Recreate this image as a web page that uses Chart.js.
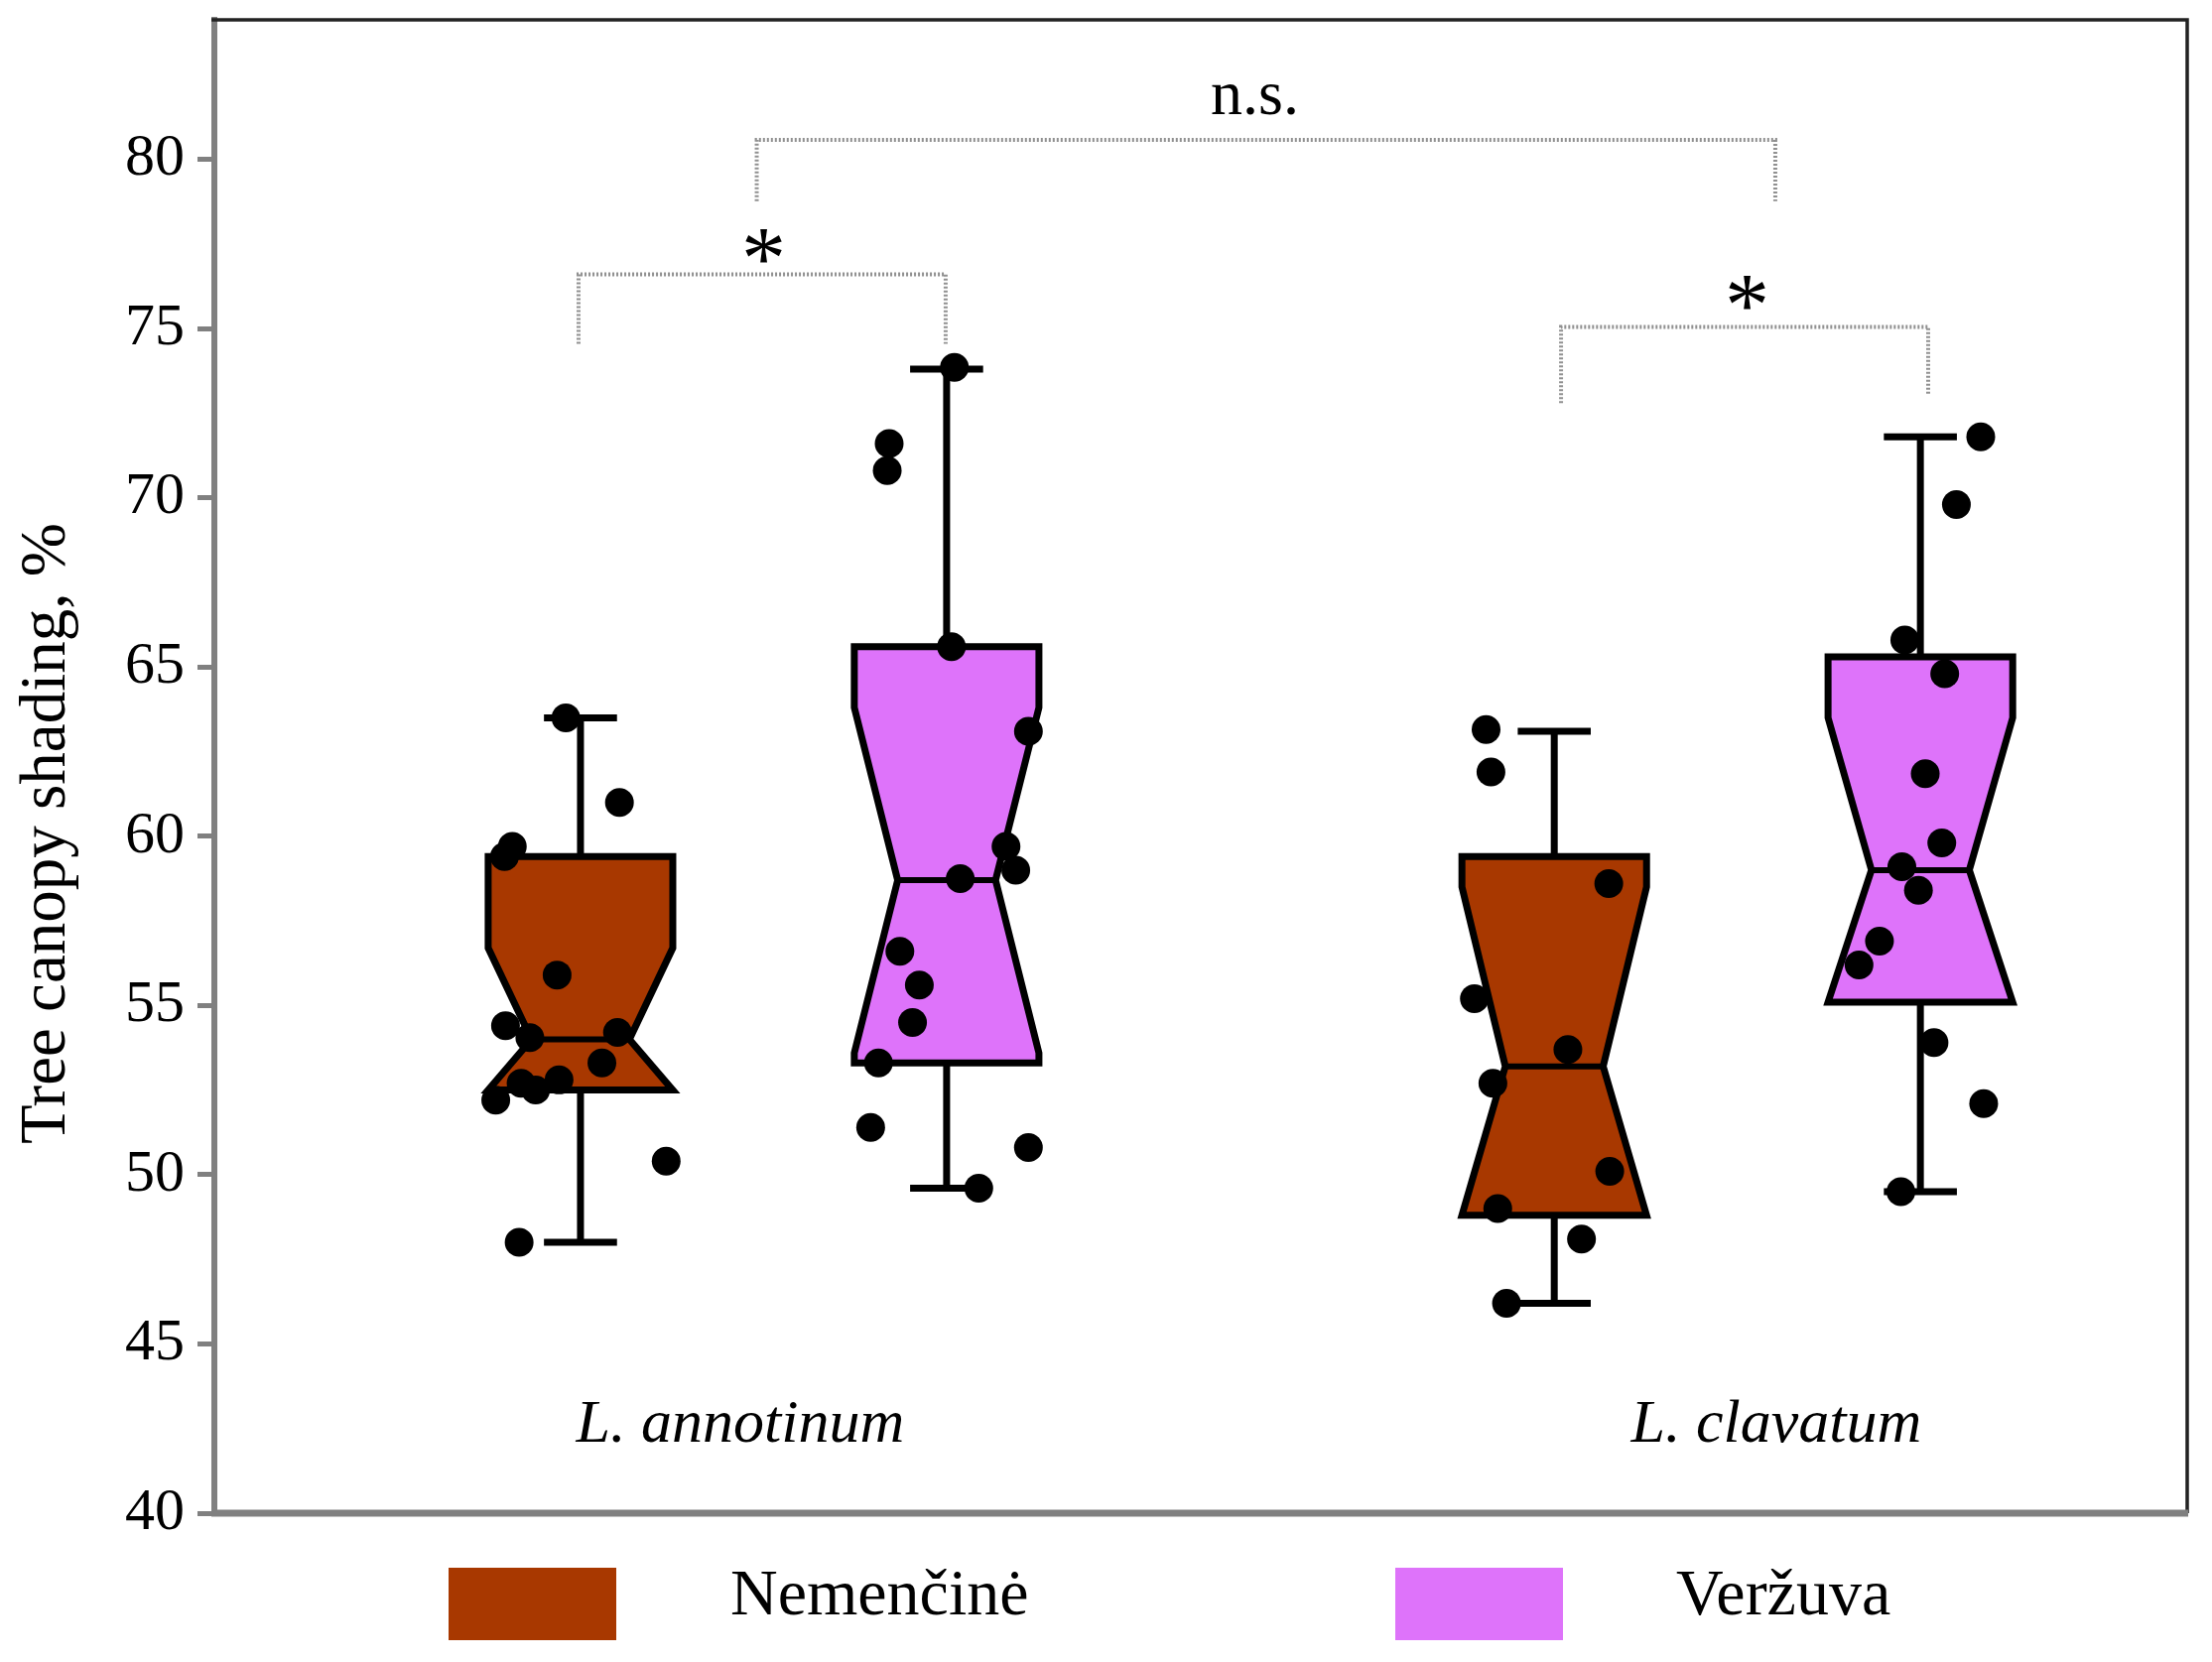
<!DOCTYPE html>
<html>
<head>
<meta charset="utf-8">
<script src="https://cdn.jsdelivr.net/npm/chart.js@4.4.0/dist/chart.umd.min.js"></script>
<style>
  html, body { margin: 0; padding: 0; background: #fff; }
</style>
</head>
<body>
<canvas id="shading" width="2229" height="1675"></canvas>
<script>
const groups = ["L. annotinum", "L. clavatum"];
const sites = ["Nemenčinė", "Veržuva"];
const siteColors = ["#a83800", "#de73fa"];
const yTicks = [40, 45, 50, 55, 60, 65, 70, 75, 80];

// box statistics, one entry per group (annotinum, clavatum)
const nemMin = [48.0, 46.2];
const nemQ1 = [52.5, 48.8];
const nemMedian = [54.0, 53.2];
const nemQ3 = [59.4, 59.4];
const nemMax = [63.5, 63.1];
const nemNotch = [2.7, 5.3];

const verMin = [49.6, 49.5];
const verQ1 = [53.3, 55.1];
const verMedian = [58.7, 59.0];
const verQ3 = [65.6, 65.3];
const verMax = [73.8, 71.8];
const verNotch = [5.1, 4.5];

// individual measurements + horizontal jitter (x units)
const nemAnnotinum = [63.5, 61.0, 59.7, 59.4, 55.9, 54.4, 54.05, 54.2, 53.3, 52.2, 52.7, 52.5, 52.8, 50.4, 48.0];
const nemAnnotinumJitter = [-0.15, 0.40, -0.70, -0.78, -0.24, -0.77, -0.52, 0.38, 0.22, -0.87, -0.61, -0.46, -0.22, 0.88, -0.63];
const verAnnotinum = [73.85, 71.6, 70.8, 65.6, 63.1, 59.7, 59.0, 58.75, 56.6, 55.6, 54.5, 53.3, 51.4, 50.8, 49.6];
const verAnnotinumJitter = [0.08, -0.59, -0.61, 0.05, 0.84, 0.61, 0.71, 0.14, -0.48, -0.28, -0.35, -0.70, -0.78, 0.84, 0.33];
const nemClavatum = [63.15, 61.9, 58.6, 55.2, 53.7, 52.7, 50.1, 49.0, 48.1, 46.2];
const nemClavatumJitter = [-0.70, -0.65, 0.56, -0.82, 0.14, -0.63, 0.57, -0.58, 0.28, -0.49];
const verClavatum = [71.8, 69.8, 65.8, 64.8, 61.85, 59.8, 59.1, 58.4, 56.9, 56.2, 53.9, 52.1, 49.5];
const verClavatumJitter = [0.62, 0.37, -0.16, 0.25, 0.05, 0.22, -0.19, -0.02, -0.42, -0.63, 0.14, 0.65, -0.20];

// significance brackets (x in axis units, y in %)
const brackets = [
  { x1: -1.9, x2: 1.87, y: 76.6, drop1: 74.55, drop2: 74.55, label: "*", lx: 0, ly: 77.45 },
  { x1: 8.19, x2: 11.96, y: 75.05, drop1: 72.8, drop2: 73.05, label: "*", lx: 10.1, ly: 76.05 },
  { x1: -0.07, x2: 10.39, y: 80.57, drop1: 78.76, drop2: 78.76, label: "n.s.", lx: 5.03, ly: 81.75 },
];

const serif = "'Liberation Serif', 'DejaVu Serif', serif";
const groupGap = 10;
const siteOffset = [-1.88, 1.88];
const boxHalf = 0.948;
const capHalf = 0.375;
const waist = 0.53;

const stats = [
  [nemMin, nemQ1, nemMedian, nemQ3, nemMax, nemNotch],
  [verMin, verQ1, verMedian, verQ3, verMax, verNotch],
];

const pointSets = [
  [nemAnnotinum, nemAnnotinumJitter, 0, 0],
  [verAnnotinum, verAnnotinumJitter, 1, 0],
  [nemClavatum, nemClavatumJitter, 0, 1],
  [verClavatum, verClavatumJitter, 1, 1],
];

function centeredText(ctx, text, x, y) {
  ctx.textAlign = "left";
  ctx.textBaseline = "alphabetic";
  const m = ctx.measureText(text);
  const w = m.actualBoundingBoxLeft + m.actualBoundingBoxRight;
  const h = m.actualBoundingBoxAscent + m.actualBoundingBoxDescent;
  ctx.fillText(text, x - w / 2 + m.actualBoundingBoxLeft, y + h / 2 - m.actualBoundingBoxDescent);
}

const boxPlugin = {
  id: "notchedBoxes",
  beforeDatasetsDraw(chart) {
    const { ctx, scales: { x, y } } = chart;
    const px = v => x.getPixelForValue(v);
    ctx.save();
    ctx.lineJoin = "miter";
    stats.forEach((st, s) => {
      groups.forEach((g, gi) => {
        const [mn, q1, med, q3, mx, notch] = st.map(a => a[gi]);
        const c = gi * groupGap + siteOffset[s];
        const cx = px(c);
        const hw = px(c + boxHalf) - cx;
        const nw = hw * waist;
        const cw = px(c + capHalf) - cx;
        const yQ1 = y.getPixelForValue(q1), yQ3 = y.getPixelForValue(q3);
        const yMed = y.getPixelForValue(med);
        const yHi = y.getPixelForValue(Math.min(q3, med + notch));
        const yLo = y.getPixelForValue(Math.max(q1, med - notch));

        // whiskers
        ctx.strokeStyle = "#000";
        ctx.lineWidth = 7;
        ctx.beginPath();
        ctx.moveTo(cx, yQ3); ctx.lineTo(cx, y.getPixelForValue(mx));
        ctx.moveTo(cx, yQ1); ctx.lineTo(cx, y.getPixelForValue(mn));
        ctx.moveTo(cx - cw, y.getPixelForValue(mx)); ctx.lineTo(cx + cw, y.getPixelForValue(mx));
        ctx.moveTo(cx - cw, y.getPixelForValue(mn)); ctx.lineTo(cx + cw, y.getPixelForValue(mn));
        ctx.stroke();

        // notched box
        ctx.beginPath();
        ctx.moveTo(cx - hw, yQ3);
        ctx.lineTo(cx + hw, yQ3);
        ctx.lineTo(cx + hw, yHi);
        ctx.lineTo(cx + nw, yMed);
        ctx.lineTo(cx + hw, yLo);
        ctx.lineTo(cx + hw, yQ1);
        ctx.lineTo(cx - hw, yQ1);
        ctx.lineTo(cx - hw, yLo);
        ctx.lineTo(cx - nw, yMed);
        ctx.lineTo(cx - hw, yHi);
        ctx.closePath();
        ctx.fillStyle = siteColors[s];
        ctx.fill();
        ctx.lineWidth = 7;
        ctx.stroke();

        ctx.lineWidth = 6;
        ctx.beginPath();
        ctx.moveTo(cx - nw, yMed); ctx.lineTo(cx + nw, yMed);
        ctx.stroke();
      });
    });
    ctx.restore();
  },
  afterDraw(chart) {
    const { ctx, chartArea: a, scales: { x, y } } = chart;
    ctx.save();

    // frame: dark top/right, grey x axis
    ctx.strokeStyle = "#222";
    ctx.lineWidth = 3.5;
    ctx.beginPath();
    ctx.moveTo(a.left - 3, a.top); ctx.lineTo(a.right, a.top); ctx.lineTo(a.right, a.bottom);
    ctx.stroke();
    ctx.strokeStyle = "#808080";
    ctx.lineWidth = 7;
    ctx.beginPath();
    ctx.moveTo(a.left - 3, a.bottom); ctx.lineTo(a.right + 1, a.bottom);
    ctx.stroke();

    // brackets
    brackets.forEach(b => {
      ctx.strokeStyle = "#909090";
      ctx.lineWidth = 4;
      ctx.setLineDash([2, 2]);
      ctx.beginPath();
      ctx.moveTo(x.getPixelForValue(b.x1), y.getPixelForValue(b.drop1));
      ctx.lineTo(x.getPixelForValue(b.x1), y.getPixelForValue(b.y));
      ctx.lineTo(x.getPixelForValue(b.x2), y.getPixelForValue(b.y));
      ctx.lineTo(x.getPixelForValue(b.x2), y.getPixelForValue(b.drop2));
      ctx.stroke();
      ctx.setLineDash([]);
      ctx.fillStyle = "#000";
      ctx.font = (b.label === "*" ? "90px " : "64px ") + serif;
      centeredText(ctx, b.label, x.getPixelForValue(b.lx), y.getPixelForValue(b.ly));
    });

    // group names inside the plot
    ctx.fillStyle = "#000";
    ctx.font = "italic 62px " + serif;
    ctx.textAlign = "center";
    ctx.textBaseline = "alphabetic";
    const labelShift = [-0.24, 0.4];
    groups.forEach((g, gi) => {
      ctx.fillText(g, x.getPixelForValue(gi * groupGap + labelShift[gi]), y.getPixelForValue(42.12));
    });

    // y axis title
    ctx.save();
    ctx.translate(65, 840);
    ctx.rotate(-Math.PI / 2);
    ctx.font = "65px " + serif;
    ctx.textAlign = "center";
    ctx.fillText("Tree canopy shading, %", 0, 0);
    ctx.restore();

    // legend
    const legendBox = [452, 1406];
    const legendText = [736, 1689];
    ctx.font = "66px " + serif;
    ctx.textAlign = "left";
    sites.forEach((s, i) => {
      ctx.fillStyle = siteColors[i];
      ctx.fillRect(legendBox[i], 1580, 169, 73);
      ctx.fillStyle = "#000";
      ctx.fillText(s, legendText[i], 1627);
    });
    ctx.restore();
  }
};

new Chart(document.getElementById("shading"), {
  type: "scatter",
  data: {
    datasets: pointSets.map(([vals, jit, s, g]) => ({
      label: sites[s] + " " + groups[g],
      data: vals.map((v, i) => ({ x: g * groupGap + siteOffset[s] + jit[i], y: v })),
      pointRadius: 14.5,
      pointHoverRadius: 14.5,
      pointBackgroundColor: "#000",
      pointBorderWidth: 0,
    })),
  },
  options: {
    responsive: false,
    animation: false,
    events: [],
    layout: { padding: { top: 20, right: 25, bottom: 150, left: 0 } },
    plugins: { legend: { display: false }, tooltip: { enabled: false } },
    scales: {
      x: { type: "linear", min: -5.64, max: 14.62, display: false },
      y: {
        min: 40,
        max: 84.12,
        afterBuildTicks: s => { s.ticks = yTicks.map(v => ({ value: v })); },
        afterFit: s => { s.width = 216; s.paddingTop = 0; s.paddingBottom = 0; },
        grid: { drawOnChartArea: false, tickLength: 17, color: "#808080", lineWidth: 5 },
        border: { color: "#808080", width: 6 },
        ticks: { font: { family: serif, size: 60 }, color: "#000", padding: 13 },
      },
    },
  },
  plugins: [boxPlugin],
});
</script>
</body>
</html>
